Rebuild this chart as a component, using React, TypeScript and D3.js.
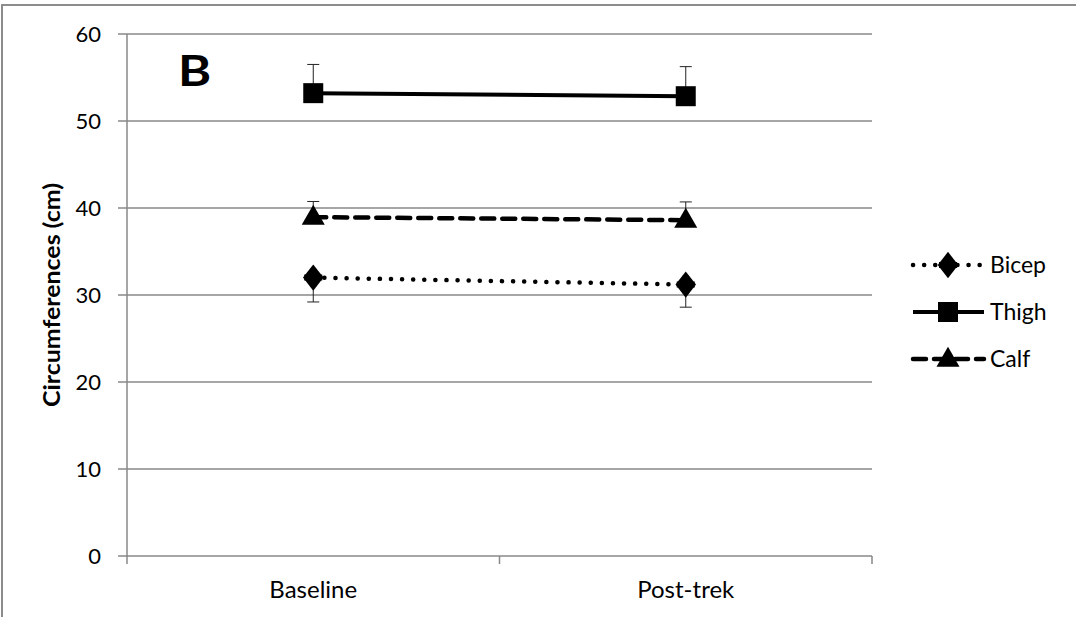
import React from 'react'
import {scaleLinear, scalePoint, line, symbol, symbolSquare, symbolTriangle, symbolDiamond, symbolCross} from 'd3'

const width = 1076
const height = 617

const categories = ['Baseline', 'Post-trek']
const yTicks = [0, 10, 20, 30, 40, 50, 60]

const seriesNames = ['Bicep', 'Thigh', 'Calf']
const bicep = [32.0, 31.2]
const thigh = [53.2, 52.85]
const calf = [38.95, 38.6]
// one-sided error bars, + up / - down
const bicepErr = [-2.8, -2.6]
const thighErr = [3.3, 3.4]
const calfErr = [1.8, 2.1]

const font = 'Lato, "Open Sans", sans-serif'

const margin = {left: 127, right: 204, top: 34, bottom: 61}

export default function App() {
    const x = scalePoint()
        .domain(categories)
        .range([margin.left, width - margin.right])
        .padding(0.5)
    const y = scaleLinear()
        .domain([0, 60])
        .range([height - margin.bottom, margin.top])

    const series = [
        {name: seriesNames[0], values: bicep, err: bicepErr, dash: '0.1 11', width: 4.5, cap: 'round', shape: 'diamond'},
        {name: seriesNames[1], values: thigh, err: thighErr, dash: null, width: 4, cap: 'butt', shape: 'square'},
        {name: seriesNames[2], values: calf, err: calfErr, dash: '13 8', width: 4.5, cap: 'round', shape: 'triangle'},
    ]

    const path = line<number>()
        .x((d, i) => x(categories[i]) as number)
        .y(d => y(d))

    const marker = (shape: string, cx: number, cy: number) => {
        if (shape === 'square') {
            return <path d={symbol(symbolSquare, 400)() as string} transform={`translate(${cx},${cy})`} fill="#000" />
        }
        if (shape === 'triangle') {
            return <path d={symbol(symbolTriangle, 230)() as string} transform={`translate(${cx},${cy + 1})`} fill="#000" />
        }
        return (
            <g transform={`translate(${cx},${cy})`}>
                <path d={symbol(symbolDiamond, 200)() as string} transform="scale(1.35,1)" fill="#000" />
                <path d={symbol(symbolCross, 180)() as string} fill="#000" />
            </g>
        )
    }

    const x0 = margin.left
    const x1 = width - margin.right
    const y0 = height - margin.bottom

    const legendY = [265, 312, 359]

    return (
        <svg width={width} height={height} style={{position: 'absolute', left: 0, top: 0, background: '#fff'}}>
            <rect x={2} y={5} width={width + 10} height={height + 10} fill="#fff" stroke="#8c8c8c" strokeWidth={2} />

            {/* gridlines */}
            {yTicks.map(t => (
                <line key={t} x1={x0 - 9} x2={x1} y1={y(t)} y2={y(t)} stroke="#898989" strokeWidth={1.5} />
            ))}
            <line x1={x0} x2={x0} y1={margin.top} y2={y0 + 1} stroke="#898989" strokeWidth={1.5} />
            {[x0, (x0 + x1) / 2, x1].map(t => (
                <line key={t} x1={t} x2={t} y1={y0} y2={y0 + 8} stroke="#898989" strokeWidth={1.5} />
            ))}

            {yTicks.map(t => (
                <text key={t} x={101} y={y(t)} dy="0.36em" textAnchor="end" fontFamily={font} fontSize={22} fill="#000">{t}</text>
            ))}
            {categories.map(c => (
                <text key={c} x={x(c)} y={598} textAnchor="middle" fontFamily={font} fontSize={24} fill="#000">{c}</text>
            ))}

            <text transform={`translate(60,${(y(0) + y(60)) / 2 + 0}) rotate(-90)`} textAnchor="middle" fontFamily={font} fontSize={23} fontWeight="bold" fill="#000"
                textLength={224} lengthAdjust="spacingAndGlyphs">
                Circumferences (cm)
            </text>

            <text x={0} y={0} transform="translate(178,86) scale(1.2,1)" fontFamily={font} fontSize={42} fontWeight="bold" fill="#000">B</text>

            {/* error bars */}
            {series.map(s => s.values.map((v, i) => {
                const cx = x(categories[i]) as number
                const end = y(v + s.err[i])
                return (
                    <g key={s.name + i}>
                        <line x1={cx} x2={cx} y1={y(v)} y2={end} stroke="#222" strokeWidth={1} />
                        <line x1={cx - 6} x2={cx + 6} y1={end} y2={end} stroke="#222" strokeWidth={1} />
                    </g>
                )
            }))}

            {/* lines */}
            {series.map(s => (
                <path key={s.name} d={path(s.values) as string} fill="none" stroke="#000" strokeWidth={s.width}
                    strokeDasharray={s.dash ?? undefined} strokeLinecap={s.cap as any} />
            ))}
            {series.map(s => s.values.map((v, i) => (
                <g key={s.name + 'm' + i}>{marker(s.shape, x(categories[i]) as number, y(v))}</g>
            )))}

            {/* legend */}
            {series.map((s, i) => (
                <g key={s.name}>
                    <line x1={913} x2={984} y1={legendY[i]} y2={legendY[i]} stroke="#000" strokeWidth={s.width}
                        strokeDasharray={s.dash ?? undefined} strokeLinecap={s.cap as any} />
                    {marker(s.shape, 948, legendY[i])}
                    <text x={990} y={legendY[i]} dy="0.36em" fontFamily={font} fontSize={23} fill="#000">{s.name}</text>
                </g>
            ))}
        </svg>
    )
}
